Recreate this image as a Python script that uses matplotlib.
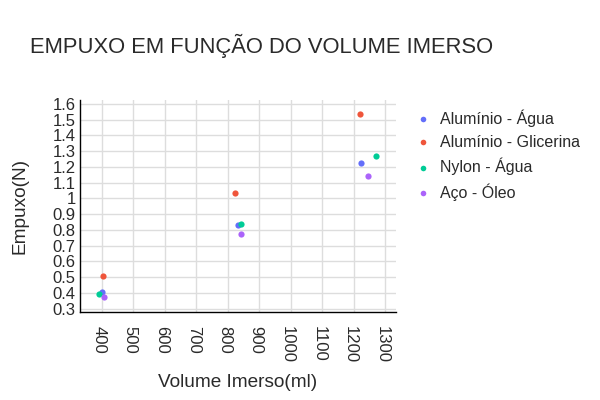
import matplotlib
matplotlib.use("Agg")
import matplotlib.pyplot as plt
import matplotlib.transforms as mtransforms

plt.rcParams['font.family'] = ['Liberation Sans', 'DejaVu Sans']

series_names = ["Alumínio - Água", "Alumínio - Glicerina", "Nylon - Água", "Aço - Óleo"]
volumes = [
    [400, 832, 1224],
    [405, 825, 1220],
    [393, 843, 1273],
    [406, 842, 1245],
]
empuxo = [
    [0.404, 0.832, 1.223],
    [0.510, 1.037, 1.537],
    [0.394, 0.840, 1.272],
    [0.372, 0.773, 1.145],
]
colors = ["#636EFA", "#EF553B", "#00CC96", "#AB63FA"]
x_ticks = [400, 500, 600, 700, 800, 900, 1000, 1100, 1200, 1300]
y_ticks = [0.3, 0.4, 0.5, 0.6, 0.7, 0.8, 0.9, 1.0, 1.1, 1.2, 1.3, 1.4, 1.5, 1.6]
y_tick_labels = ["0.3", "0.4", "0.5", "0.6", "0.7", "0.8", "0.9", "1", "1.1", "1.2", "1.3", "1.4", "1.5", "1.6"]

fig = plt.figure(figsize=(6, 4), dpi=100)
ax = fig.add_axes([0.1333, 0.2208, 0.5262, 0.5292])

for name, xs, ys, c in zip(series_names, volumes, empuxo, colors):
    ax.scatter(xs, ys, s=20, color=c, label=name, linewidths=0, zorder=3)

ax.set_xlim(331, 1334)
ax.set_ylim(0.2815, 1.625)
ax.set_xticks(x_ticks)
ax.set_xticklabels([str(v) for v in x_ticks], rotation=-90, fontsize=12, color="#2a2a2a")
ax.set_yticks(y_ticks)
ax.set_yticklabels(y_tick_labels, fontsize=12, color="#2a2a2a")
ax.tick_params(axis="x", length=0, pad=10)
ax.tick_params(axis="y", length=0, pad=3)
shift = mtransforms.ScaledTranslation(-3 / 100, 0, fig.dpi_scale_trans)
for lbl in ax.get_xticklabels():
    lbl.set_transform(lbl.get_transform() + shift)
ax.grid(True, color="#dddddd", linewidth=1)
ax.set_axisbelow(True)
for side in ["top", "right"]:
    ax.spines[side].set_visible(False)
for side in ["left", "bottom"]:
    ax.spines[side].set_color("black")
    ax.spines[side].set_linewidth(1)

ax.set_xlabel("Volume Imerso(ml)", fontsize=13.7, color="#2a2a2a", va="center")
ax.xaxis.set_label_coords(0.5, -(383 - 311.7) / 211.7)
ax.set_ylabel("Empuxo(N)", fontsize=13.7, color="#2a2a2a", va="center")
ax.yaxis.set_label_coords((20 - 80) / 315.7, 0.5)

fig.text(30 / 600, 1 - 46 / 400, "EMPUXO EM FUNÇÃO DO VOLUME IMERSO", fontsize=15.8,
         color="#2a2a2a", ha="left", va="center")

leg = ax.legend(loc="upper left", bbox_to_anchor=(1.01, 1.025), frameon=False,
                fontsize=11.5, handletextpad=0.5, labelspacing=0.5, markerscale=0.9,
                handlelength=1.2)
for t in leg.get_texts():
    t.set_color("#2a2a2a")

fig.savefig("out.png", dpi=100)
